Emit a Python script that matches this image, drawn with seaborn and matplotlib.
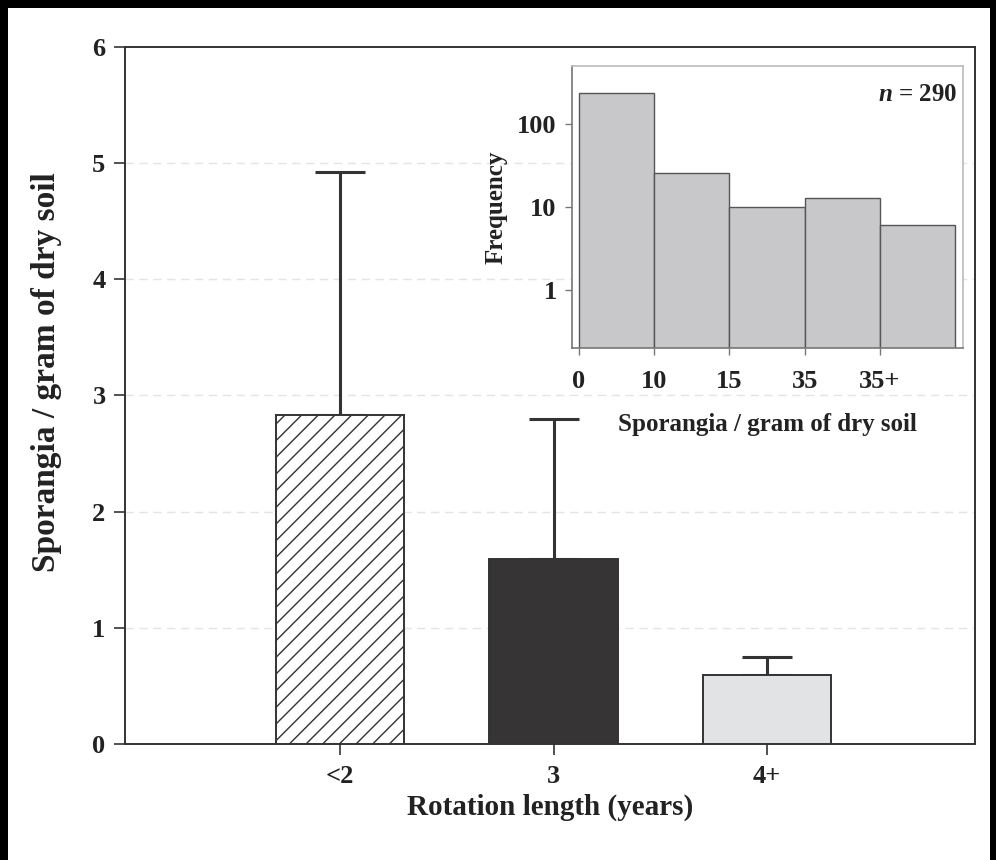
#!/usr/bin/env python3

import numpy as np
import matplotlib
matplotlib.use("Agg")
import matplotlib.pyplot as plt
import seaborn as sns
from matplotlib.patches import Rectangle

# Main chart: sporangia by rotation length
rotation = ["<2", "3", "4+"]
mean_sporangia = [2.83, 1.59, 0.59]
upper_error = [2.09, 1.21, 0.16]
bar_colors = ["#ffffff", "#363435", "#e2e3e5"]

# Inset histogram
bin_labels = ["0", "10", "15", "35", "35+"]
frequency = [235, 26, 10, 13, 6]

sns.set_theme(style="ticks")
plt.rcParams["font.family"] = ["Liberation Serif", "DejaVu Serif"]
plt.rcParams["font.weight"] = "bold"
plt.rcParams["axes.labelweight"] = "bold"
plt.rcParams["mathtext.fontset"] = "custom"
plt.rcParams["mathtext.it"] = "Liberation Serif:italic:bold"
plt.rcParams["mathtext.rm"] = "Liberation Serif:bold"
plt.rcParams["hatch.linewidth"] = 1.0
plt.rcParams["hatch.color"] = "#333333"

dark = "#333333"
txt = "#222222"

fig = plt.figure(figsize=(9.96, 8.6), dpi=100)
fig.patch.set_facecolor("black")
fig.patches.append(Rectangle((8 / 996, 0), 982 / 996, 852 / 860,
                             transform=fig.transFigure, facecolor="white",
                             edgecolor="none", zorder=-10))

ax = fig.add_axes([0.1255, 0.1349, 0.8534, 0.8105])
sns.barplot(
    x=rotation,
    y=mean_sporangia,
    hue=rotation,
    palette=bar_colors,
    order=rotation,
    legend=False,
    width=0.6,
    edgecolor=dark,
    linewidth=1.4,
    ax=ax,
    zorder=3,
)
ax.patches[0].set_hatch("//")

ax.errorbar(
    x=np.arange(len(rotation)),
    y=mean_sporangia,
    yerr=[np.zeros(len(rotation)), upper_error],
    fmt="none",
    ecolor=dark,
    elinewidth=2.2,
    capsize=18,
    capthick=2.2,
    zorder=2,
)

ax.set_xlim(-1.007, 2.974)
ax.set_ylim(0, 6)
ax.set_yticks(range(0, 7))
for v in range(1, 6):
    ax.axhline(v, color="#e4e4e4", linestyle=(0, (6, 4)), linewidth=1, zorder=1)
for side in ["left", "right", "top", "bottom"]:
    ax.spines[side].set_color(dark)
    ax.spines[side].set_linewidth(1.4)
ax.tick_params(axis="both", direction="out", length=8, width=1.2, color=dark,
               labelsize=19, labelcolor=txt)
ax.tick_params(axis="x", pad=7)
ax.tick_params(axis="y", pad=6)
ax.set_xlabel("Rotation length (years)", fontsize=21, color=txt, labelpad=4)
ax.set_ylabel("Sporangia / gram of dry soil", fontsize=24, color=txt)
ax.yaxis.set_label_coords(-0.074, 0.534)

# Inset histogram on log scale: bars sit between bin edges 0..5
bin_mid = np.arange(len(frequency)) + 0.5
ax_in = fig.add_axes([0.5743, 0.5953, 0.3926, 0.3279])
ax_in.set_facecolor("white")
sns.barplot(
    x=bin_mid,
    y=frequency,
    native_scale=True,
    width=1.0,
    color="#c8c8ca",
    saturation=1,
    edgecolor="#555555",
    linewidth=1.0,
    ax=ax_in,
)
ax_in.set_yscale("log")
ax_in.set_ylim(0.2, 500)
ax_in.set_xlim(-0.093, 5.106)
ax_in.set_xticks(range(len(bin_labels)))
ax_in.set_xticklabels(bin_labels)
ax_in.set_yticks([1, 10, 100])
ax_in.set_yticklabels(["1", "10", "100"])
ax_in.minorticks_off()
ax_in.spines["left"].set_color("#777777")
ax_in.spines["bottom"].set_color("#777777")
ax_in.spines["top"].set_color("#bbbbbb")
ax_in.spines["right"].set_color("#bbbbbb")
for side in ["left", "right", "top", "bottom"]:
    ax_in.spines[side].set_linewidth(1.2)
ax_in.tick_params(axis="both", direction="out", length=5, width=1.0, color="#777777",
                  labelsize=19, labelcolor=txt)
ax_in.tick_params(axis="x", pad=11)
ax_in.tick_params(axis="y", pad=6)
ax_in.set_xlabel("Sporangia / gram of dry soil", fontsize=18, color=txt, labelpad=14)
ax_in.set_ylabel("Frequency", fontsize=18, color=txt)
ax_in.yaxis.set_label_coords(-0.164, 0.5)
ax_in.text(0.985, 0.90, r"$n$ = 290", transform=ax_in.transAxes, ha="right",
           va="center", fontsize=18, color=txt)

plt.savefig("out.png", dpi=100, facecolor=fig.get_facecolor())
